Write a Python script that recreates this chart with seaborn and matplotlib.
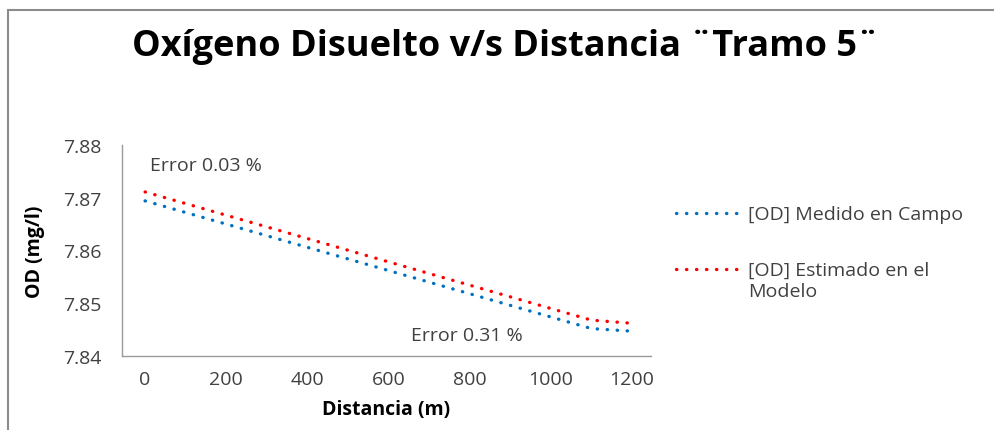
import matplotlib
matplotlib.use("Agg")
import matplotlib.pyplot as plt
import seaborn as sns
import pandas as pd
from matplotlib.lines import Line2D
from matplotlib.patches import Rectangle

# Dissolved oxygen along the reach (distance in metres, OD in mg/l)
distancia = [0, 1100, 1200]
od_medido = [7.8694, 7.8452, 7.8447]
od_estimado = [7.8711, 7.8468, 7.8462]

serie_medido = "[OD] Medido en Campo"
serie_estimado = "[OD] Estimado en el\nModelo"

x_ticks = [0, 200, 400, 600, 800, 1000, 1200]
y_ticks = [7.84, 7.85, 7.86, 7.87, 7.88]

sns.set_theme(style="white")
plt.rcParams["font.family"] = ["Open Sans", "DejaVu Sans"]

df = pd.DataFrame({
    "Distancia": distancia * 2,
    "OD": od_medido + od_estimado,
    "Serie": [serie_medido] * len(distancia) + [serie_estimado] * len(distancia),
})
colores = {serie_medido: "#0070C0", serie_estimado: "#FF0000"}

TXT = 14
fig = plt.figure(figsize=(9.95, 4.31), dpi=100)
ax = fig.add_axes([0.1226, 0.1717, 0.5317, 0.4896])

sns.lineplot(data=df, x="Distancia", y="OD", hue="Serie", palette=colores,
             ax=ax, legend=False, linewidth=2.4, sort=False)
for line in ax.lines:
    line.set_linestyle((0, (0.1, 2.9)))
    line.set_dash_capstyle("round")

ax.set_xlim(-57, 1247)
ax.set_ylim(7.84, 7.88)
ax.set_xticks(x_ticks)
ax.set_yticks(y_ticks)
ax.set_yticklabels([f"{v:.2f}" for v in y_ticks])
ax.tick_params(axis="both", length=0, labelsize=TXT, colors="#404040")
ax.tick_params(axis="y", pad=15)
ax.tick_params(axis="x", pad=10)
for side in ("top", "right"):
    ax.spines[side].set_visible(False)
for side in ("left", "bottom"):
    ax.spines[side].set_color("#9A9A9A")
    ax.spines[side].set_linewidth(1.0)

ax.set_xlabel("Distancia (m)", fontsize=TXT, fontweight="bold", color="black", labelpad=8)
ax.set_ylabel("OD (mg/l)", fontsize=TXT, fontweight="bold", color="black", labelpad=13)

ax.text(12, 7.8762, "Error 0.03 %", fontsize=TXT, color="#404040", va="center", ha="left")
ax.text(655, 7.8440, "Error 0.31 %", fontsize=TXT, color="#404040", va="center", ha="left")

fig.text(0.508, 0.891, "Oxígeno Disuelto v/s Distancia ¨Tramo 5¨",
         fontsize=26, fontweight="bold", ha="center", va="center", color="black")

# Legend on the right of the plot area
W, H = 995, 431
for y_px, serie in ((214, serie_medido), (270, serie_estimado)):
    fig.add_artist(Line2D([676 / W, 737 / W], [1 - y_px / H] * 2, transform=fig.transFigure,
                          color=colores[serie], linewidth=2.4,
                          linestyle=(0, (0.1, 2.9)), dash_capstyle="round"))
    fig.text(748 / W, 1 - (y_px - 8) / H, serie, fontsize=TXT, color="#404040",
             ha="left", va="top", linespacing=1.25)

# Outer chart frame
fig.add_artist(Rectangle((8 / W, -0.1), 1.2, 1 - 11 / H + 0.1, transform=fig.transFigure,
                         fill=False, edgecolor="#8C8C8C", linewidth=1.5))

fig.savefig("out.png", dpi=100, facecolor="white")
